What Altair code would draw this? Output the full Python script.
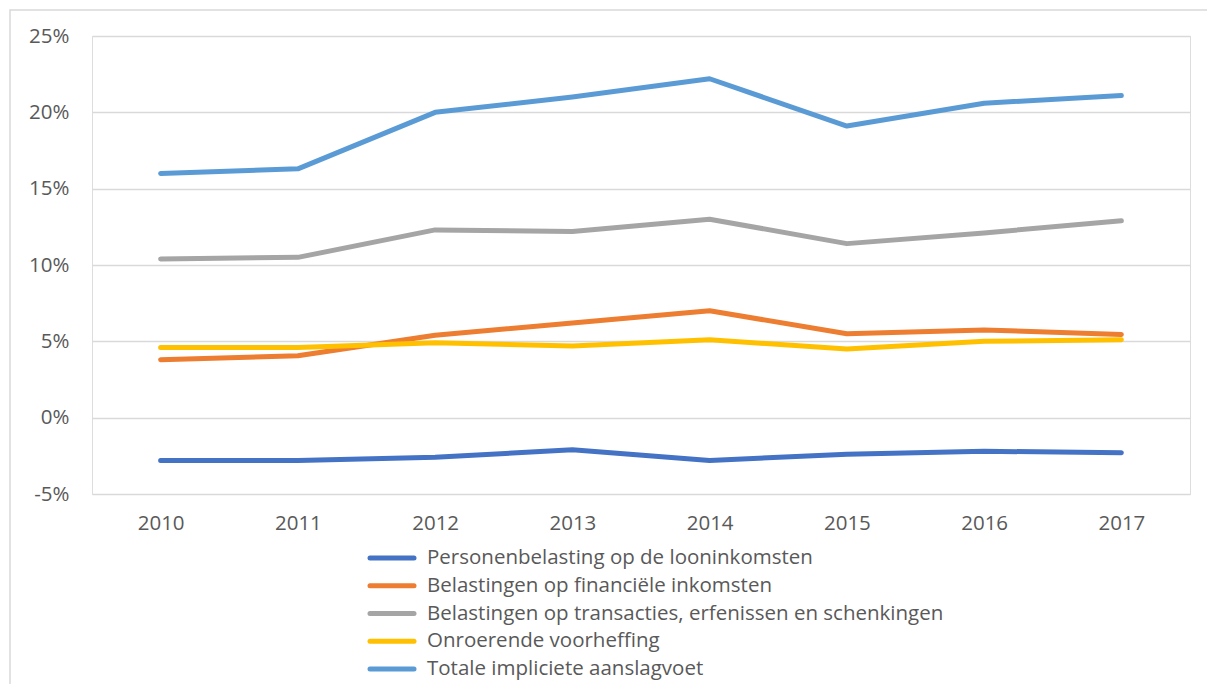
import altair as alt
import pandas as pd

years = ["2010", "2011", "2012", "2013", "2014", "2015", "2016", "2017"]
series_names = [
    "Personenbelasting op de looninkomsten",
    "Belastingen op financiële inkomsten",
    "Belastingen op transacties, erfenissen en schenkingen",
    "Onroerende voorheffing",
    "Totale impliciete aanslagvoet",
]
personen = [-2.8, -2.8, -2.6, -2.1, -2.8, -2.4, -2.2, -2.3]
financieel = [3.8, 4.05, 5.4, 6.2, 7.0, 5.5, 5.75, 5.45]
transacties = [10.4, 10.5, 12.3, 12.2, 13.0, 11.4, 12.1, 12.9]
onroerend = [4.6, 4.6, 4.9, 4.7, 5.1, 4.5, 5.0, 5.1]
totaal = [16.0, 16.3, 20.0, 21.0, 22.2, 19.1, 20.6, 21.1]
colors = ["#4472C4", "#ED7D31", "#A5A5A5", "#FFC000", "#5B9BD5"]

rows = []
for name, vals in zip(series_names, [personen, financieel, transacties, onroerend, totaal]):
    for y, v in zip(years, vals):
        rows.append({"jaar": y, "waarde": v, "reeks": name})
df = pd.DataFrame(rows)
legend_df = pd.DataFrame({"reeks": series_names, "idx": list(range(len(series_names)))})

W, H = 1098, 458
FONT = "Open Sans"
GREY = "#595959"
color_scale = alt.Scale(domain=series_names, range=colors)

frame = alt.Chart(pd.DataFrame({"a": [0]})).mark_rect(
    fill="white", fillOpacity=0, stroke="#D9D9D9", strokeWidth=1.5
).encode(
    x=alt.value(-82), x2=alt.value(1150), y=alt.value(-26), y2=alt.value(720)
)

lines = alt.Chart(df).mark_line(strokeWidth=5, strokeCap="round", strokeJoin="round").encode(
    x=alt.X("jaar:O", sort=years, title=None,
            scale=alt.Scale(type="point", padding=0.5),
            axis=alt.Axis(domain=False, ticks=False, labelAngle=0, labelPadding=19,
                          labelFont=FONT, labelFontSize=20.5, labelColor=GREY, grid=False)),
    y=alt.Y("waarde:Q", title=None,
            scale=alt.Scale(domain=[-5, 25], nice=False, zero=False),
            axis=alt.Axis(values=[-5, 0, 5, 10, 15, 20, 25], labelExpr="datum.value + '%'",
                          domain=False, ticks=False, labelPadding=23,
                          labelFont=FONT, labelFontSize=20.5, labelColor=GREY,
                          grid=True, gridColor="#D9D9D9", gridWidth=1.3)),
    color=alt.Color("reeks:N", sort=series_names, scale=color_scale, legend=None),
    order=alt.Order("jaar:O"),
)

leg_y = alt.Y("idx:O", axis=None, scale=alt.Scale(type="point", range=[522, 633], padding=0))

leg_rule = alt.Chart(legend_df).mark_rule(strokeWidth=5, strokeCap="round").encode(
    x=alt.value(278), x2=alt.value(322),
    y=leg_y,
    color=alt.Color("reeks:N", scale=color_scale, legend=None),
)

leg_text = alt.Chart(legend_df).mark_text(
    align="left", baseline="middle", font=FONT, fontSize=20.5, color=GREY
).encode(
    x=alt.value(335),
    y=leg_y,
    text="reeks:N",
)

chart = alt.layer(frame, lines, leg_rule, leg_text).resolve_scale(
    y="independent"
).properties(
    width=W, height=H,
    autosize=alt.AutoSizeParams(type="none"),
    padding={"left": 84, "top": 28, "right": 17, "bottom": 190},
).configure_view(stroke=None).configure(background="white")

chart.save("out.html", embed_options={"renderer": "svg", "actions": False})
